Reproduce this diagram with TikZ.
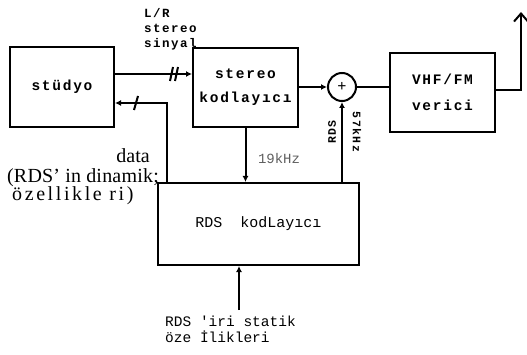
\documentclass[tikz,border=0pt]{standalone}
\usepackage{fontspec}
\setmainfont{Liberation Serif}
\setmonofont{Liberation Mono}
\newfontfamily\boxfont[LetterSpace=12]{Liberation Mono}
\newfontfamily\codefont{Liberation Mono}
\usetikzlibrary{arrows.meta, positioning}
\definecolor{linecol}{RGB}{0, 0, 0}
\definecolor{faintcol}{RGB}{95, 95, 95}
\tikzset{
  blk/.style   = {draw=linecol, line width=2pt, align=center, inner sep=0pt,
                  minimum width=105pt, minimum height=79pt,
                  font=\boxfont\bfseries\fontsize{14.5}{24}\selectfont},
  sum/.style   = {draw=linecol, line width=2pt, circle, minimum size=28pt,
                  inner sep=0pt, font=\bfseries\fontsize{16}{16}\selectfont},
  lbl/.style   = {inner sep=0pt, align=left,
                  font=\boxfont\bfseries\fontsize{12.5}{15}\selectfont},
  vlbl/.style  = {inner sep=0pt, font=\boxfont\bfseries\fontsize{11.5}{11.5}\selectfont},
  datatxt/.style = {inner sep=0pt, font=\fontsize{20}{20}\selectfont},
  codetxt/.style = {inner sep=0pt, align=left,
                    font=\codefont\fontsize{14.5}{16}\selectfont},
  freq/.style  = {inner sep=0pt, text=faintcol,
                  font=\codefont\fontsize{14}{14}\selectfont},
  flow/.style  = {-{Latex[length=6pt, width=6pt]}, draw=linecol, line width=2pt},
  wire/.style  = {draw=linecol, line width=2pt},
  ant/.style   = {-{Straight Barb[length=8pt, width=14pt, line width=2pt]},
                  draw=linecol, line width=2pt},
  brk/.style   = {draw=linecol, line width=2pt},
}
\begin{document}
\begin{tikzpicture}[x=1pt, y=-1pt]
  \useasboundingbox (0,0) rectangle (527,355);

  %% blocks
  \node[blk, minimum width=104pt, minimum height=80pt] (studyo) at (62,87) {stüdyo};
  \node[blk] (stereo) at (245.5,87.5) {stereo\\kodlayıcı};
  \node[sum] (adder) at (342,87) {+};
  \node[blk, font=\boxfont\bfseries\fontsize{14.5}{26}\selectfont] (verici)
       at (442.5,92.5) {VHF/FM\\verici};
  \node[blk, minimum width=201pt, minimum height=82pt, font=\codefont\fontsize{15}{15}\selectfont]
       (rds) at (258.5,224) {RDS\ \ kodLayıcı};

  %% free ends
  \coordinate (sig)  at (0,74);
  \coordinate (dat)  at (167,103);
  \coordinate (tip)  at (521,12);
  \coordinate (stat) at (239,310);
  \coordinate (out)  at (0,90);

  %% connectors
  \draw[flow] (studyo.east |- sig) -- (stereo.west |- sig);
  \draw[flow] (rds.north -| dat) -- (dat) -- (studyo.east |- dat);
  \draw[flow] (stereo.south) -- (stereo.south |- rds.north);
  \draw[flow] (stereo.east |- adder) -- (adder.west);
  \draw[flow] (rds.north -| adder) -- (adder.south);
  \draw[wire] (adder.east) -- (verici.west |- adder);
  \draw[ant]  (verici.east |- out) -| (tip);
  \draw[flow] (stat) -- (rds.south -| stat);

  %% break marks
  \draw[brk] (170,81) -- (173,67);
  \draw[brk] (175,81) -- (178,67);
  \draw[brk] (134,110) -- (138,96);

  %% labels
  \node[lbl, anchor=north west] (sinyal) at (144,8) {L/R\\stereo\\sinyal};
  \node[datatxt, anchor=base east] (data1) at (150,163) {data};
  \node[datatxt, anchor=base east, font=\addfontfeature{LetterSpace=1}\fontsize{20}{20}\selectfont]
       (data2) at (159,183) {(RDS' in dinamik;};
  \node[datatxt, anchor=base west, font=\addfontfeature{LetterSpace=13}\fontsize{20}{20}\selectfont]
       (data3) at (12,201) {özellikle ri)};
  \node[freq] (khz) at (279,158) {19kHz};
  \node[vlbl, rotate=90]  (rdslbl) at (332,132) {RDS};
  \node[vlbl, rotate=-90] (khzlbl) at (357,132) {57kHz};
  \node[codetxt, anchor=north west] (statik) at (165,316) {RDS 'iri statik\\öze İlikleri};

\end{tikzpicture}
\end{document}
